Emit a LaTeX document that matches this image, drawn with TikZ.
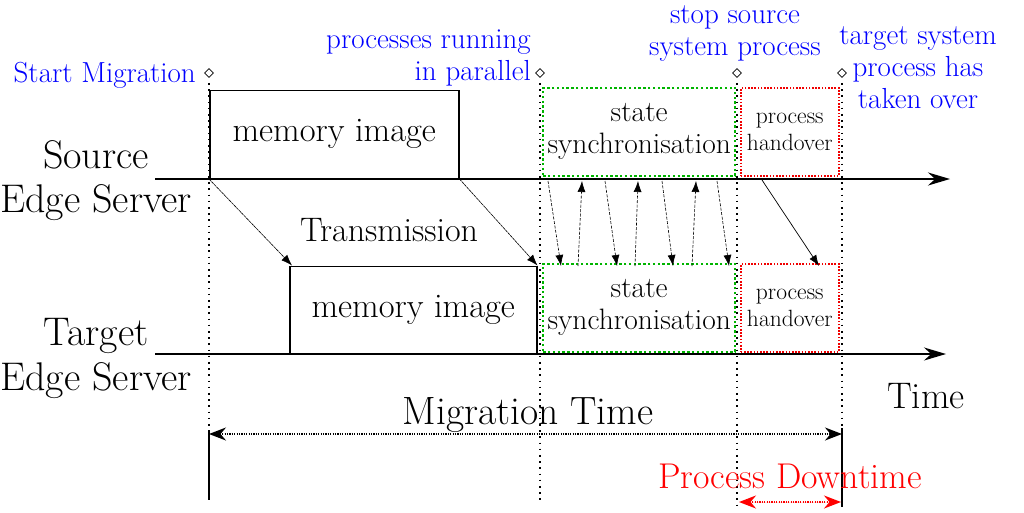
\documentclass[tikz,border=0pt]{standalone}
\usetikzlibrary{arrows.meta,shapes.geometric}
\definecolor{syncgreen}{RGB}{0,180,0}
\definecolor{hred}{RGB}{240,0,0}
\begin{document}
\begin{tikzpicture}[x=1pt,y=-1pt,
  big/.style={font=\fontsize{40}{44}\selectfont, inner sep=0},
  bluelbl/.style={text=blue, font=\fontsize{29}{32}\selectfont, align=center, inner sep=0},
  membox/.style={draw, line width=1.5pt, inner sep=0, font=\fontsize{34.5}{38}\selectfont},
  syncbox/.style={draw=syncgreen, line width=2.4pt, dash pattern=on 2.4pt off 2.4pt, inner sep=0,
     align=center, font=\fontsize{29.5}{32}\selectfont, minimum width=192pt, minimum height=88pt},
  handbox/.style={draw=hred, line width=1.6pt, dash pattern=on 1.6pt off 1.6pt, inner sep=0,
     align=center, font=\fontsize{23.5}{27}\selectfont, minimum width=98pt, minimum height=88pt},
  timeline/.style={line width=1.8pt, -{Stealth[length=22pt,width=13pt]}},
  vdot/.style={line width=1.6pt, dash pattern=on 1.6pt off 4.6pt},
  tick/.style={draw, diamond, line width=0.8pt, minimum size=9pt, inner sep=0},
  xfer/.style={line width=0.6pt, dash pattern=on 3pt off 0.6pt, -{Latex[length=11pt,width=8pt]}},
  syncarrow/.style={line width=0.6pt, dash pattern=on 3pt off 1.5pt, -{Latex[length=11pt,width=8pt]}},
  spanarrow/.style={line width=1.8pt, dash pattern=on 1.2pt off 1.2pt, {Stealth[length=17pt,width=13pt]}-{Stealth[length=17pt,width=13pt]}},
  solidv/.style={line width=1.2pt}
]
\useasboundingbox (0,0) rectangle (1024,512);

% markers
\node[tick] (d1) at (209,73) {};
\node[tick] (d2) at (540,73) {};
\node[tick] (d3) at (737,73) {};
\node[tick] (d4) at (842,73) {};
\coordinate (v1) at (209,430);
\coordinate (v1b) at (209,500);
\coordinate (v2) at (540,500);
\coordinate (v3) at (737,505);
\coordinate (v4) at (842,428);
\coordinate (v4b) at (842,507);
\draw[vdot] ([yshift=-5pt]d1.south) -- (v1);
\draw[vdot] ([yshift=-5pt]d2.south) -- (v2);
\draw[vdot] ([yshift=-5pt]d3.south) -- (v3);
\draw[vdot] ([yshift=-5pt]d4.south) -- (v4);
\draw[solidv] (v1) -- (v1b);
\draw[solidv] (v4) -- (v4b);

% timelines
\coordinate (s0) at (155,179);
\coordinate (s1) at (950,179);
\coordinate (t0) at (155,354);
\coordinate (t1) at (946,354);
\draw[timeline] (s0) -- (s1);
\draw[timeline] (t0) -- (t1);

% boxes
\node[membox, minimum width=249pt, minimum height=88pt, anchor=south west] (smem) at (209,179) {memory image};
\node[membox, minimum width=247pt, minimum height=87pt, anchor=south west] (tmem) at (289,354) {memory image};
\node[syncbox, anchor=south west] (ssync) at (542,177) {state\\synchronisation};
\node[syncbox, anchor=south west] (tsync) at (542,353) {state\\synchronisation};
\node[handbox, anchor=south west] (shand) at (740,177) {process\\handover};
\node[handbox, anchor=south west] (thand) at (740,353) {process\\handover};

% transmission arrows
\draw[xfer] (smem.south west) -- ([xshift=3pt]tmem.north west);
\draw[xfer] (smem.south east) -- (tmem.north east);

% sync arrows
\coordinate (a1) at (548,181); \coordinate (b1) at (561,266);
\coordinate (a2) at (578,266); \coordinate (b2) at (582,181);
\coordinate (a3) at (605,181); \coordinate (b3) at (617,266);
\coordinate (a4) at (635,266); \coordinate (b4) at (638,181);
\coordinate (a5) at (662,181); \coordinate (b5) at (673,266);
\coordinate (a6) at (692,266); \coordinate (b6) at (696,181);
\coordinate (a7) at (717,181); \coordinate (b7) at (729,266);
\foreach \i in {1,...,7} { \draw[syncarrow] (a\i) -- (b\i); }

% handover arrow
\coordinate (h0) at (762,180);
\coordinate (h1) at (819,266);
\draw[line width=0.7pt, -{Latex[length=11pt,width=8pt]}] (h0) -- (h1);

% spans
\coordinate (m0) at (209,434);
\coordinate (m1) at (842,434);
\draw[spanarrow] (m0) -- (m1);
\coordinate (p0) at (739,502);
\coordinate (p1) at (841,502);
\draw[spanarrow, draw=red, fill=red] (p0) -- (p1);

% labels
\node[big, anchor=base] (src) at (96,168) {Source};
\node[big, anchor=base] (srce) at (96,212) {Edge Server};
\node[big, anchor=base] (tgt) at (96,345) {Target};
\node[big, anchor=base] (tgte) at (96,390) {Edge Server};
\node[big, font=\fontsize{34}{36}\selectfont, anchor=base] (trans) at (389,241) {Transmission};
\node[big, font=\fontsize{37}{40}\selectfont, anchor=base] (time) at (926,408) {Time};
\node[big, font=\fontsize{39.5}{42}\selectfont, anchor=base] (mtime) at (528,424) {Migration Time};
\node[big, text=red, font=\fontsize{35.8}{40}\selectfont, anchor=base] (dtime) at (790,488) {Process Downtime};

\node[bluelbl, anchor=base east] (l1) at (196,82) {Start Migration};
\node[bluelbl, align=right, anchor=base east] (l2) at (531,80) {processes running\\in parallel};
\node[bluelbl, anchor=base] (l3) at (735,55) {stop source\\system process};
\node[bluelbl, anchor=base] (l4) at (918,108) {target system\\process has\\taken over};
\end{tikzpicture}
\end{document}
